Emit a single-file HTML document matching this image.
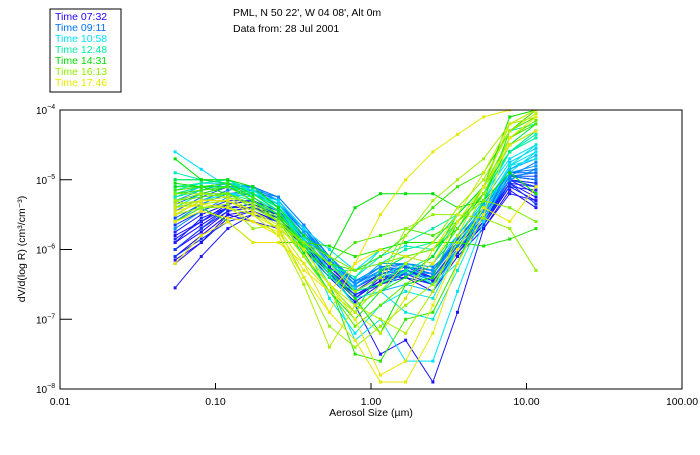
<!DOCTYPE html>
<html><head><meta charset="utf-8"><style>
body{margin:0;background:#fff;}
svg text{font-family:"Liberation Sans",sans-serif;}
</style></head><body>
<svg id="chart" width="700" height="450" xmlns="http://www.w3.org/2000/svg">
<defs><clipPath id="pc"><rect x="60" y="110" width="622" height="279"/></clipPath></defs>
<rect width="700" height="450" fill="#fff"/>
<g>
<rect x="50" y="9" width="71" height="83" fill="none" stroke="#000" stroke-width="1"/>
<text x="55" y="20" font-size="10.5" fill="#2000ff">Time 07:32</text>
<text x="55" y="31" font-size="10.5" fill="#0070ff">Time 09:11</text>
<text x="55" y="42" font-size="10.5" fill="#00e0ff">Time 10:58</text>
<text x="55" y="53" font-size="10.5" fill="#00f0a0">Time 12:48</text>
<text x="55" y="64" font-size="10.5" fill="#00e000">Time 14:31</text>
<text x="55" y="75" font-size="10.5" fill="#90f000">Time 16:13</text>
<text x="55" y="86" font-size="10.5" fill="#e8e800">Time 17:46</text>
</g>
<text x="233" y="16" font-size="10.5">PML, N 50 22', W 04 08', Alt 0m</text>
<text x="233" y="32" font-size="10.5">Data from: 28 Jul 2001</text>
<g id="series" clip-path="url(#pc)"></g>
<rect x="60" y="110" width="622" height="279" fill="none" stroke="#000" stroke-width="1"/>
<g id="axes"></g>
<text x="371" y="416" font-size="10.5" text-anchor="middle">Aerosol Size (µm)</text>
<text transform="translate(25,249) rotate(-90)" font-size="10.5" text-anchor="middle">dV/d(log R) (cm³/cm⁻³)</text>
</svg>
<script>
const sizes=[0.055,0.081,0.12,0.174,0.254,0.37,0.54,0.79,1.15,1.67,2.5,3.6,5.3,7.8,11.5];
const xTicks=[0.01,0.1,1,10,100];
const xTickLabels=["0.01","0.10","1.00","10.00","100.00"];
const yTicks=[-4,-5,-6,-7,-8];
const times=[452,455,460,465,470,480,490,500,551,560,570,580,658,665,675,690,768,775,785,871,880,890,900,910,973,985,995,1005,1066,1070,1075,1080,
  458,463,475,485,495,505,520,535,545,590,600,620,640,700,720,740,800,830,850,920,940,960,1020,1040];
const s1=[-6.1,-5.8,-5.5,-5.45,-5.6,-5.9,-6.3,-6.6,-6.4,-6.3,-6.4,-6.0,-5.6,-5.0,-5.2];
const s2=[-6.0,-5.75,-5.45,-5.4,-5.55,-5.95,-6.35,-6.7,-6.45,-6.35,-6.5,-6.05,-5.65,-5.1,-5.3];
const s3=[-5.8,-5.6,-5.35,-5.3,-5.5,-5.85,-6.25,-6.55,-6.3,-6.25,-6.35,-5.9,-5.5,-4.95,-5.0];
const s4=[-6.2,-5.9,-5.5,-5.6,-5.7,-6.0,-6.4,-6.75,-6.5,-6.4,-6.6,-6.1,-5.7,-5.15,-5.4];
const s5=[-6.55,-6.1,-5.7,-5.5,-5.6,-5.95,-6.3,-6.8,-7.5,-7.3,-7.9,-6.9,-5.7,-5.2,-5.3];
const s6=[-5.9,-5.55,-5.4,-5.35,-5.5,-5.8,-6.2,-6.55,-6.35,-6.3,-6.45,-6.0,-5.6,-5.05,-5.1];
const s7=[-6.0,-5.7,-5.45,-5.4,-5.55,-5.9,-6.3,-6.6,-6.4,-6.4,-6.5,-6.05,-5.6,-5.1,-5.15];
const s8=[-6.1,-5.85,-5.6,-5.5,-5.6,-5.9,-6.3,-6.65,-6.5,-6.35,-6.4,-6.0,-5.65,-5.05,-5.35];
const s9=[-5.3,-5.2,-5.1,-5.15,-5.3,-5.7,-6.2,-6.5,-6.25,-6.2,-6.3,-5.9,-5.5,-4.95,-4.9];
const s10=[-5.5,-5.3,-5.15,-5.1,-5.3,-5.75,-6.15,-6.45,-6.35,-6.3,-6.35,-5.85,-5.45,-4.95,-5.0];
const s11=[-5.6,-5.35,-5.2,-5.15,-5.25,-5.65,-6.1,-6.5,-6.3,-6.2,-6.25,-5.95,-5.5,-4.95,-4.75];
const s12=[-5.7,-5.45,-5.25,-5.2,-5.35,-5.7,-6.1,-6.45,-6.25,-6.35,-6.4,-6.0,-5.55,-5.0,-4.85];
const s13=[-4.6,-4.85,-5.1,-5.2,-5.3,-5.7,-6.0,-6.3,-6.0,-6.1,-6.2,-5.7,-5.2,-4.7,-4.5];
const s14=[-5.4,-5.3,-5.2,-5.25,-5.45,-5.9,-6.5,-7.3,-7.0,-7.6,-7.6,-6.6,-5.6,-4.9,-4.6];
const s15=[-5.2,-5.1,-5.1,-5.2,-5.4,-5.8,-6.1,-6.6,-6.4,-6.2,-6.5,-6.2,-5.4,-4.8,-4.6];
const s16=[-5.5,-5.3,-5.2,-5.2,-5.4,-5.85,-6.7,-7.2,-6.8,-6.6,-6.7,-6.0,-5.4,-4.8,-4.7];
const s17=[-5.1,-5.05,-5.0,-5.2,-5.4,-5.9,-6.2,-6.4,-6.0,-5.9,-5.7,-5.5,-5.1,-4.6,-4.4];
const s18=[-5.25,-5.15,-5.1,-5.2,-5.45,-6.0,-6.3,-6.3,-6.2,-6.0,-5.9,-5.4,-5.0,-4.3,-4.2];
const s19=[-5.4,-5.2,-5.2,-5.3,-5.5,-6.1,-6.6,-6.9,-6.5,-6.3,-6.1,-5.6,-5.2,-4.6,-4.3];
const s20=[-4.7,-5.0,-5.0,-5.1,-5.4,-5.8,-6.1,-5.4,-5.2,-5.2,-5.2,-5.4,-5.3,-4.9,-5.2];
const s21=[-5.05,-5.1,-5.2,-5.4,-5.6,-6.0,-6.3,-6.7,-7.2,-6.5,-6.4,-5.6,-5.1,-4.1,-4.0];
const s22=[-5.6,-5.4,-5.6,-5.9,-5.9,-5.9,-5.95,-6.1,-6.0,-5.9,-5.9,-5.9,-5.95,-5.85,-5.7];
const s23=[-5.3,-5.2,-5.1,-5.3,-5.6,-6.0,-6.5,-7.5,-7.6,-7.0,-6.9,-6.2,-5.3,-4.3,-4.0];
const s24=[-5.15,-5.1,-5.05,-5.25,-5.5,-5.9,-6.2,-6.3,-6.1,-5.8,-5.4,-5.1,-4.9,-4.3,-4.1];
const s25=[-5.3,-5.4,-5.35,-5.7,-5.65,-5.9,-6.2,-6.6,-6.4,-5.7,-5.5,-5.5,-5.55,-5.7,-6.3];
const s26=[-5.5,-5.4,-5.4,-5.5,-5.7,-6.4,-7.1,-7.4,-7.1,-6.8,-6.5,-5.9,-5.2,-4.4,-4.1];
const s27=[-5.3,-5.2,-5.25,-5.35,-5.6,-6.0,-6.5,-6.9,-6.5,-5.8,-5.3,-5.0,-4.7,-4.2,-4.0];
const s28=[-5.4,-5.35,-5.3,-5.5,-5.8,-6.5,-7.4,-6.8,-7.0,-7.2,-6.6,-5.8,-5.1,-4.2,-4.1];
const s29=[-6.2,-5.8,-5.6,-5.9,-5.9,-6.2,-6.9,-7.3,-7.9,-7.9,-7.2,-6.2,-5.5,-4.4,-4.1];
const s30=[-5.6,-5.45,-5.55,-5.6,-5.75,-6.3,-6.6,-6.2,-5.5,-5.0,-4.6,-4.35,-4.1,-4.0,-3.9];
const s31=[-5.5,-5.3,-5.3,-5.5,-5.7,-6.0,-6.5,-7.0,-7.8,-7.6,-6.8,-6.0,-5.4,-5.6,-5.1];
const s32=[-5.45,-5.35,-5.4,-5.6,-5.8,-6.4,-6.9,-6.2,-6.0,-6.1,-6.2,-5.6,-5.1,-4.5,-4.3];
const s33=[-5.9,-5.65,-5.4,-5.4,-5.5,-5.85,-6.25,-6.6,-6.35,-6.25,-6.4,-5.95,-5.55,-5.0,-5.05];
const s34=[-6.15,-5.9,-5.55,-5.45,-5.6,-5.95,-6.35,-6.65,-6.45,-6.3,-6.45,-6.05,-5.6,-5.05,-5.25];
const s35=[-5.75,-5.5,-5.35,-5.3,-5.45,-5.8,-6.2,-6.5,-6.3,-6.25,-6.3,-5.9,-5.5,-4.95,-5.0];
const s36=[-5.85,-5.6,-5.4,-5.35,-5.5,-5.85,-6.3,-6.7,-6.4,-6.3,-6.45,-6.0,-5.6,-5.0,-5.1];
const s37=[-5.65,-5.45,-5.3,-5.3,-5.45,-5.85,-6.25,-6.55,-6.35,-6.3,-6.4,-5.95,-5.5,-5.0,-5.05];
const s38=[-6.0,-5.7,-5.4,-5.35,-5.5,-5.9,-6.3,-6.6,-6.4,-6.35,-6.4,-6.0,-5.55,-5.0,-5.1];
const s39=[-5.55,-5.35,-5.2,-5.2,-5.35,-5.75,-6.2,-6.55,-6.35,-6.25,-6.35,-5.9,-5.5,-4.95,-4.95];
const s40=[-5.45,-5.25,-5.1,-5.1,-5.3,-5.7,-6.15,-6.5,-6.3,-6.25,-6.3,-5.85,-5.45,-4.9,-4.9];
const s41=[-5.35,-5.2,-5.1,-5.1,-5.25,-5.65,-6.1,-6.45,-6.25,-6.2,-6.3,-5.85,-5.4,-4.9,-4.85];
const s42=[-5.3,-5.15,-5.05,-5.1,-5.3,-5.7,-6.2,-6.6,-6.4,-6.3,-6.35,-5.9,-5.45,-4.9,-4.8];
const s43=[-5.2,-5.1,-5.05,-5.1,-5.3,-5.75,-6.2,-6.5,-6.2,-6.2,-6.3,-5.8,-5.35,-4.85,-4.7];
const s44=[-5.25,-5.1,-5.1,-5.15,-5.35,-5.8,-6.3,-6.8,-6.6,-6.5,-6.6,-6.0,-5.4,-4.85,-4.65];
const s45=[-5.1,-5.05,-5.05,-5.15,-5.35,-5.8,-6.2,-6.55,-6.3,-6.1,-6.2,-5.8,-5.3,-4.75,-4.55];
const s46=[-5.0,-5.0,-5.05,-5.15,-5.35,-5.85,-6.3,-6.7,-6.6,-6.9,-7.0,-6.3,-5.5,-4.8,-4.5];
const s47=[-5.15,-5.05,-5.0,-5.2,-5.4,-5.9,-6.2,-6.4,-6.1,-5.95,-6.0,-5.6,-5.2,-4.6,-4.4];
const s48=[-4.9,-5.0,-5.0,-5.15,-5.4,-5.9,-6.35,-6.8,-6.6,-6.3,-6.5,-6.0,-5.3,-4.6,-4.35];
const s49=[-5.2,-5.1,-5.05,-5.2,-5.45,-5.95,-6.4,-6.6,-6.5,-6.2,-5.9,-5.5,-5.1,-4.5,-4.3];
const s50=[-5.0,-5.0,-5.05,-5.2,-5.45,-6.0,-6.5,-6.9,-6.3,-6.1,-6.0,-5.7,-5.2,-4.5,-4.2];
const s51=[-5.1,-5.1,-5.1,-5.25,-5.5,-6.05,-6.6,-7.0,-6.6,-6.4,-6.1,-5.5,-5.1,-4.5,-4.3];
const s52=[-5.2,-5.15,-5.1,-5.3,-5.55,-5.95,-6.2,-5.9,-5.8,-5.7,-5.8,-5.6,-5.2,-4.4,-4.2];
const s53=[-5.3,-5.25,-5.2,-5.35,-5.6,-6.1,-6.6,-7.1,-6.8,-6.5,-6.2,-5.7,-5.1,-4.4,-4.15];
const s54=[-5.2,-5.2,-5.2,-5.4,-5.6,-5.9,-6.1,-6.3,-6.2,-6.1,-6.0,-5.6,-5.3,-5.4,-5.6];
const s55=[-5.35,-5.3,-5.25,-5.45,-5.65,-6.1,-6.5,-6.8,-6.6,-6.2,-5.9,-5.4,-5.0,-4.3,-4.05];
const s56=[-5.4,-5.3,-5.3,-5.45,-5.7,-6.2,-6.6,-6.9,-7.2,-6.7,-6.0,-5.5,-4.9,-4.2,-4.0];
const seriesList=[s1,s2,s3,s4,s5,s6,s7,s8,s9,s10,s11,s12,s13,s14,s15,s16,s17,s18,s19,s20,s21,s22,s23,s24,s25,s26,s27,s28,s29,s30,s31,s32,
  s33,s34,s35,s36,s37,s38,s39,s40,s41,s42,s43,s44,s45,s46,s47,s48,s49,s50,s51,s52,s53,s54,s55,s56];

const NS="http://www.w3.org/2000/svg";
function xs(v){return 60+(Math.log10(v)+2)*155.5;}
function ys(l){return 110+(-4-l)*69.75;}
const pal=[[452,[32,0,255]],[551,[0,112,255]],[658,[0,224,255]],[768,[0,240,160]],[871,[0,224,0]],[973,[144,240,0]],[1066,[232,232,0]]];
function colorFor(t){
  for(let i=0;i<pal.length-1;i++){
    if(t<=pal[i+1][0]){const f=(t-pal[i][0])/(pal[i+1][0]-pal[i][0]);
      const c=pal[i][1].map((v,k)=>Math.round(v+(pal[i+1][1][k]-v)*Math.max(0,f)));return `rgb(${c})`;}
  }
  return `rgb(${pal[pal.length-1][1]})`;
}
const g=document.getElementById('series');
const order=seriesList.map((s,i)=>i).sort((a,b)=>times[a]-times[b]);
order.forEach(i=>{
  const s=seriesList[i];
  const col=colorFor(times[i]);
  const pl=document.createElementNS(NS,'polyline');
  pl.setAttribute('points',s.map((v,j)=>xs(sizes[j])+','+ys(v)).join(' '));
  pl.setAttribute('fill','none');pl.setAttribute('stroke',col);pl.setAttribute('stroke-width','1');
  
  
  g.appendChild(pl);
  s.forEach((v,j)=>{
    const r=document.createElementNS(NS,'rect');
    r.setAttribute('x',xs(sizes[j])-1.5);r.setAttribute('y',ys(v)-1.5);
    r.setAttribute('width',3);r.setAttribute('height',3);r.setAttribute('fill',col);
    
    
    g.appendChild(r);
  });
});
const ax=document.getElementById('axes');
xTicks.forEach((t,i)=>{
  const x=xs(t);
  const l=document.createElementNS(NS,'line');
  l.setAttribute('x1',x);l.setAttribute('x2',x);l.setAttribute('y1',389);l.setAttribute('y2',383);l.setAttribute('stroke','#000');
  
  
  ax.appendChild(l);
  const tx=document.createElementNS(NS,'text');
  tx.setAttribute('x',x);tx.setAttribute('y',405);tx.setAttribute('font-size','10.5');tx.setAttribute('text-anchor','middle');
  tx.textContent=xTickLabels[i];
  
  
  ax.appendChild(tx);
});
yTicks.forEach(t=>{
  const y=ys(t);
  const l=document.createElementNS(NS,'line');
  l.setAttribute('x1',60);l.setAttribute('x2',72);l.setAttribute('y1',y);l.setAttribute('y2',y);l.setAttribute('stroke','#000');
  
  
  ax.appendChild(l);
  const tx=document.createElementNS(NS,'text');
  tx.setAttribute('x',36);tx.setAttribute('y',y+4);tx.setAttribute('font-size','10');
  tx.innerHTML='10<tspan dy="-5" font-size="7">'+String(t).replace('-','−')+'</tspan>';
  
  
  ax.appendChild(tx);
});
</script>
</body></html>
